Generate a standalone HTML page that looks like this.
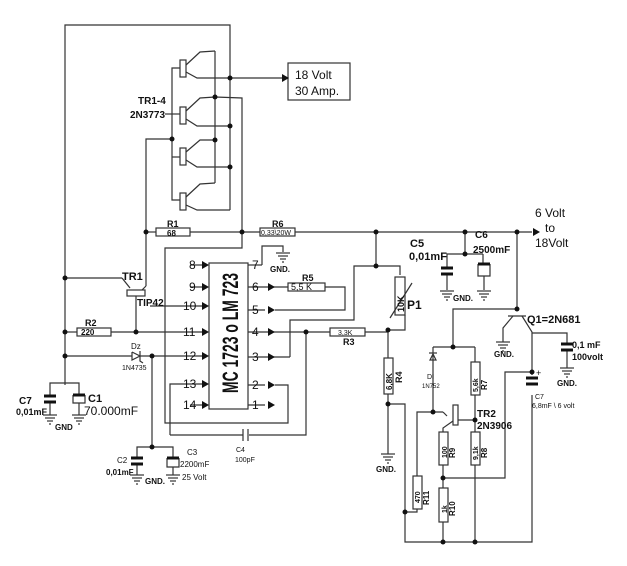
<!DOCTYPE html>
<html><head><meta charset="utf-8"><style>
html,body{margin:0;padding:0;background:#fff}
svg{display:block}
text{font-family:"Liberation Sans",Arial,sans-serif;fill:#111}
.b{font-weight:bold}
</style></head><body>
<svg width="627" height="566" viewBox="0 0 627 566" xmlns="http://www.w3.org/2000/svg">
<defs>
<g id="gnd" stroke="#333" stroke-width="1.2"><line x1="-7" y1="0" x2="7" y2="0"/><line x1="-5" y1="3" x2="5" y2="3"/><line x1="-3" y1="6" x2="3" y2="6"/><line x1="-1" y1="9" x2="1" y2="9"/></g>
<g id="ar"><polygon points="0,0 -7,-4 -7,4" fill="#111"/></g>
</defs>
<g stroke="#333" stroke-width="1.2" fill="none">
<!-- top loop -->
<polyline points="65,385 65,25 230,25 230,210"/>
<!-- output -->
<line x1="230" y1="78" x2="285" y2="78"/>
<rect x="288" y="63" width="62" height="37"/>
<!-- transistors TR1-4 -->
<g>
<rect x="180" y="60" width="6" height="17"/><rect x="180" y="107" width="6" height="17"/><rect x="180" y="148" width="6" height="17"/><rect x="180" y="193" width="6" height="17"/>
<polyline points="186,65 200,52 215,51"/><polyline points="186,72 197,78 230,78"/>
<polyline points="186,111 200,98 215,97 242,98 242,248 165,248 165,423 288,423 288,385 275,385"/>
<polyline points="186,119 197,126 230,126"/>
<polyline points="186,152 200,140 215,140"/><polyline points="186,160 197,167 230,167"/>
<polyline points="186,197 200,184 215,183"/><polyline points="186,205 197,210 230,210"/>
<line x1="215" y1="51" x2="215" y2="183"/>
<polyline points="180,68 172,68 172,200 180,200"/>
<line x1="172" y1="157" x2="180" y2="157"/>
<line x1="165" y1="114" x2="180" y2="114"/>
<polyline points="172,139 146,139 146,286"/>
</g>
<!-- R1 R6 rail -->
<line x1="146" y1="232" x2="156" y2="232"/><rect x="156" y="228" width="34" height="8"/>
<line x1="190" y1="232" x2="260" y2="232"/><rect x="260" y="228" width="35" height="8"/>
<line x1="295" y1="232" x2="532" y2="232"/>
<!-- TR1 -->
<line x1="65" y1="278" x2="122" y2="278"/><polyline points="122,278 130,288"/>
<rect x="127" y="290" width="18" height="6"/>
<line x1="146" y1="286" x2="142" y2="290"/>
<line x1="136" y1="296" x2="136" y2="332"/>
<!-- R2, pin11 -->
<line x1="65" y1="332" x2="77" y2="332"/><rect x="77" y="328" width="34" height="8"/><line x1="111" y1="332" x2="205" y2="332"/>
<line x1="150" y1="306" x2="205" y2="306"/>
<line x1="65" y1="356" x2="132" y2="356"/><line x1="140" y1="356" x2="205" y2="356"/>
<polyline points="132,352 132,360 140,356 132,352"/><polyline points="140,351 140,361 143,363"/>
<line x1="152" y1="356" x2="152" y2="447"/>
<!-- IC -->
<rect x="209" y="263" width="39" height="146"/>
<line x1="190" y1="265" x2="205" y2="265"/><line x1="190" y1="287" x2="205" y2="287"/>
<polyline points="170,435 170,384 205,384"/><line x1="190" y1="405" x2="205" y2="405"/>
<line x1="248" y1="265" x2="262" y2="265"/><polyline points="262,265 262,246 283,246 283,252"/>
<line x1="248" y1="287" x2="288" y2="287"/><rect x="288" y="283" width="37" height="8"/>
<polyline points="325,287 345,287 345,310 275,310"/><line x1="248" y1="310" x2="265" y2="310"/>
<line x1="248" y1="332" x2="330" y2="332"/><line x1="248" y1="357" x2="290" y2="357"/>
<polyline points="290,357 290,320 354,320 354,266 400,266 400,275"/>
<line x1="248" y1="385" x2="265" y2="385"/><line x1="248" y1="405" x2="265" y2="405"/>
<polyline points="170,435 243,435"/><polyline points="249,435 306,435 306,332"/>
<line x1="243" y1="429" x2="243" y2="441"/><line x1="248" y1="429" x2="248" y2="441"/>
<!-- R3 P1 R4 -->
<rect x="330" y="328" width="35" height="8"/><line x1="365" y1="332" x2="388" y2="332"/>
<line x1="376" y1="232" x2="376" y2="266"/>
<rect x="395" y="277" width="10" height="38"/><polyline points="405,315 405,330 388,330"/>
<line x1="390" y1="318" x2="412" y2="283"/>
<line x1="388" y1="330" x2="388" y2="358"/><rect x="384" y="358" width="9" height="36"/>
<line x1="388" y1="394" x2="388" y2="454"/>
<polyline points="388,404 405,404 405,542 532,542 532,395"/>
<!-- C5 C6 -->
<polyline points="447,268 447,254 483,254"/><line x1="465" y1="232" x2="465" y2="254"/>
<line x1="441" y1="268" x2="453" y2="268"/><line x1="441" y1="274" x2="453" y2="274"/><line x1="447" y1="274" x2="447" y2="290"/>
<polyline points="483,254 483,264"/><polyline points="478,264 478,276 490,276 490,264"/><line x1="484" y1="276" x2="484" y2="290"/>
<!-- Q1 -->
<line x1="517" y1="232" x2="517" y2="309"/>
<polyline points="517,309 453,309 453,347"/>
<line x1="508" y1="316" x2="526" y2="316"/>
<polyline points="513,316 503,328 503,342"/>
<polyline points="522,316 532,332 532,375"/>
<polyline points="532,333 567,333 567,344"/><line x1="561" y1="344" x2="573" y2="344"/><line x1="561" y1="350" x2="573" y2="350"/><line x1="567" y1="350" x2="567" y2="368"/>
<!-- lower network -->
<line x1="433" y1="347" x2="475" y2="347"/>
<line x1="433" y1="347" x2="433" y2="412"/>
<polygon points="430,360 436,360 433,354"/>
<line x1="429" y1="353" x2="437" y2="353"/>
<line x1="475" y1="347" x2="475" y2="362"/><rect x="471" y="362" width="9" height="33"/><line x1="475" y1="395" x2="475" y2="432"/>
<polyline points="417,476 417,412 443,412"/><line x1="443" y1="412" x2="447" y2="416"/>
<rect x="453" y="405" width="5" height="20"/><line x1="458" y1="420" x2="475" y2="420"/>
<polyline points="453,421 443,428 443,432"/>
<rect x="439" y="432" width="9" height="33"/><rect x="471" y="432" width="9" height="33"/>
<line x1="443" y1="465" x2="443" y2="488"/><line x1="475" y1="465" x2="475" y2="542"/>
<polyline points="443,478 505,478 505,372 532,372"/>
<rect x="439" y="488" width="9" height="34"/><line x1="443" y1="522" x2="443" y2="542"/>
<rect x="413" y="476" width="9" height="33"/><polyline points="417,509 417,512 405,512"/>
<line x1="526" y1="378" x2="538" y2="378"/><line x1="526" y1="384" x2="538" y2="384"/>
<!-- C7 C1 -->
<polyline points="50,396 50,383 79,383 79,395"/>
<line x1="44" y1="396" x2="56" y2="396"/><line x1="44" y1="402" x2="56" y2="402"/><line x1="50" y1="402" x2="50" y2="415"/>
<polyline points="73,395 73,403 85,403 85,395"/><line x1="79" y1="403" x2="79" y2="415"/>
<!-- C2 C3 -->
<polyline points="137,458 137,447 173,447 173,458"/>
<line x1="131" y1="458" x2="143" y2="458"/><line x1="131" y1="464" x2="143" y2="464"/><line x1="137" y1="464" x2="137" y2="475"/>
<polyline points="167,458 167,467 179,467 179,458"/><line x1="173" y1="467" x2="173" y2="475"/>
</g>
<g stroke="#111" stroke-width="3">
<line x1="441" y1="268" x2="453" y2="268"/><line x1="441" y1="274" x2="453" y2="274"/>
<line x1="44" y1="396" x2="56" y2="396"/><line x1="44" y1="402" x2="56" y2="402"/>
<line x1="131" y1="458" x2="143" y2="458"/><line x1="131" y1="464" x2="143" y2="464"/>
<line x1="561" y1="344" x2="573" y2="344"/><line x1="561" y1="350" x2="573" y2="350"/>
<line x1="526" y1="378" x2="538" y2="378"/><line x1="526" y1="384" x2="538" y2="384"/>
<line x1="73" y1="395" x2="85" y2="395"/><line x1="167" y1="458" x2="179" y2="458"/><line x1="478" y1="264" x2="490" y2="264"/>
</g>
<!-- grounds -->
<use href="#gnd" x="283" y="253"/><use href="#gnd" x="447" y="291"/><use href="#gnd" x="484" y="291"/>
<use href="#gnd" x="503" y="342"/><use href="#gnd" x="567" y="368"/><use href="#gnd" x="388" y="454"/>
<use href="#gnd" x="50" y="415"/><use href="#gnd" x="79" y="415"/><use href="#gnd" x="137" y="475"/><use href="#gnd" x="173" y="475"/>
<!-- arrows -->
<use href="#ar" x="289" y="78"/><use href="#ar" x="540" y="232"/>
<use href="#ar" x="209" y="265"/><use href="#ar" x="209" y="287"/><use href="#ar" x="209" y="306"/><use href="#ar" x="209" y="332"/><use href="#ar" x="209" y="356"/><use href="#ar" x="209" y="384"/><use href="#ar" x="209" y="405"/>
<use href="#ar" x="275" y="287"/><use href="#ar" x="275" y="310"/><use href="#ar" x="275" y="332"/><use href="#ar" x="275" y="357"/><use href="#ar" x="275" y="385"/><use href="#ar" x="275" y="405"/>
<!-- nodes -->
<g fill="#111">
<circle cx="230" cy="78" r="2.5"/><circle cx="215" cy="97" r="2.5"/><circle cx="230" cy="126" r="2.5"/><circle cx="172" cy="139" r="2.5"/><circle cx="215" cy="140" r="2.5"/><circle cx="230" cy="167" r="2.5"/>
<circle cx="146" cy="232" r="2.5"/><circle cx="242" cy="232" r="2.5"/><circle cx="376" cy="232" r="2.5"/><circle cx="465" cy="232" r="2.5"/><circle cx="517" cy="232" r="2.5"/>
<circle cx="376" cy="266" r="2.5"/><circle cx="465" cy="254" r="2.5"/><circle cx="65" cy="278" r="2.5"/><circle cx="65" cy="332" r="2.5"/><circle cx="136" cy="332" r="2.5"/><circle cx="65" cy="356" r="2.5"/><circle cx="152" cy="356" r="2.5"/>
<circle cx="306" cy="332" r="2.5"/><circle cx="388" cy="330" r="2.5"/><circle cx="388" cy="404" r="2.5"/><circle cx="517" cy="309" r="2.5"/><circle cx="453" cy="347" r="2.5"/>
<circle cx="433" cy="412" r="2.5"/><circle cx="475" cy="420" r="2.5"/><circle cx="443" cy="478" r="2.5"/><circle cx="532" cy="372" r="2.5"/><circle cx="405" cy="512" r="2.5"/>
<circle cx="443" cy="542" r="2.5"/><circle cx="475" cy="542" r="2.5"/><circle cx="152" cy="447" r="2.5"/>
</g>
<!-- labels -->
<text x="295" y="79" font-size="12">18 Volt</text><text x="295" y="95" font-size="12">30  Amp.</text>
<text x="138" y="104" font-size="10" class="b">TR1-4</text><text x="130" y="118" font-size="10" class="b">2N3773</text>
<text x="167" y="227" font-size="9" class="b">R1</text><text x="167" y="236" font-size="8" class="b">68</text>
<text x="272" y="227" font-size="9" class="b">R6</text><text x="261" y="235" font-size="7">0,33\20W</text>
<text x="535" y="217" font-size="12">6 Volt</text><text x="545" y="232" font-size="12">to</text><text x="535" y="247" font-size="12">18Volt</text>
<text x="122" y="280" font-size="11" class="b">TR1</text><text x="137" y="306" font-size="10" class="b">TIP42</text>
<text x="85" y="326" font-size="9" class="b">R2</text><text x="81" y="335" font-size="8" class="b">220</text>
<text x="131" y="349" font-size="8">Dz</text><text x="122" y="370" font-size="7">1N4735</text>
<g font-size="12"><text x="189" y="269">8</text><text x="189" y="291">9</text><text x="183" y="310">10</text><text x="183" y="336">11</text><text x="183" y="360">12</text><text x="183" y="388">13</text><text x="183" y="409">14</text>
<text x="252" y="269">7</text><text x="252" y="291">6</text><text x="252" y="314">5</text><text x="252" y="336">4</text><text x="252" y="361">3</text><text x="252" y="389">2</text><text x="252" y="409">1</text></g>
<text transform="translate(238,393) rotate(-90)" font-size="22" class="b" textLength="120" lengthAdjust="spacingAndGlyphs">MC 1723 o LM 723</text>
<text x="270" y="272" font-size="8" class="b">GND.</text>
<text x="302" y="281" font-size="9" class="b">R5</text><text x="291" y="290" font-size="9">5,5 K</text>
<text x="338" y="335" font-size="7">3,3K</text><text x="343" y="345" font-size="9" class="b">R3</text>
<text x="410" y="247" font-size="11" class="b">C5</text><text x="409" y="260" font-size="11" class="b">0,01mF</text>
<text x="475" y="238" font-size="10" class="b">C6</text><text x="473" y="253" font-size="10" class="b">2500mF</text>
<text x="453" y="301" font-size="8" class="b">GND.</text>
<text transform="translate(404,312) rotate(-90)" font-size="9" class="b">10K</text><text x="407" y="309" font-size="12" class="b">P1</text>
<text transform="translate(392,390) rotate(-90)" font-size="8" class="b">6,8K</text><text transform="translate(402,383) rotate(-90)" font-size="9" class="b">R4</text>
<text x="376" y="472" font-size="8" class="b">GND.</text>
<text x="527" y="323" font-size="11" class="b">Q1=2N681</text><text x="494" y="357" font-size="8" class="b">GND.</text>
<text x="572" y="348" font-size="9" class="b">0,1 mF</text><text x="572" y="360" font-size="9" class="b">100volt</text><text x="557" y="386" font-size="8" class="b">GND.</text>
<text x="535" y="399" font-size="7">C7</text><text x="532" y="408" font-size="7">6,8mF \ 6 volt</text><text x="536" y="376" font-size="9">+</text>
<text x="427" y="379" font-size="7">DI</text><text x="422" y="388" font-size="6">1N752</text>
<text transform="translate(478,392) rotate(-90)" font-size="7" class="b">5,6k</text><text transform="translate(487,390) rotate(-90)" font-size="8" class="b">R7</text>
<text x="477" y="417" font-size="10" class="b">TR2</text><text x="477" y="429" font-size="10" class="b">2N3906</text>
<text transform="translate(447,458) rotate(-90)" font-size="7" class="b">100</text><text transform="translate(455,458) rotate(-90)" font-size="8" class="b">R9</text>
<text transform="translate(478,460) rotate(-90)" font-size="7" class="b">9,1k</text><text transform="translate(487,458) rotate(-90)" font-size="8" class="b">R8</text>
<text transform="translate(420,503) rotate(-90)" font-size="7" class="b">470</text><text transform="translate(429,505) rotate(-90)" font-size="8" class="b">R11</text>
<text transform="translate(447,513) rotate(-90)" font-size="7" class="b">1k</text><text transform="translate(455,516) rotate(-90)" font-size="8" class="b">R10</text>
<text x="19" y="404" font-size="10" class="b">C7</text><text x="16" y="415" font-size="9" class="b">0,01mF</text>
<text x="88" y="402" font-size="11" class="b">C1</text><text x="84" y="415" font-size="12">70.000mF</text>
<text x="55" y="430" font-size="8" class="b">GND</text>
<text x="236" y="452" font-size="7">C4</text><text x="235" y="462" font-size="7">100pF</text>
<text x="117" y="463" font-size="8">C2</text><text x="106" y="475" font-size="8" class="b">0,01mF</text>
<text x="187" y="455" font-size="8">C3</text><text x="180" y="467" font-size="8">2200mF</text><text x="182" y="480" font-size="8">25 Volt</text>
<text x="145" y="484" font-size="8" class="b">GND.</text>
</svg>
</body></html>
